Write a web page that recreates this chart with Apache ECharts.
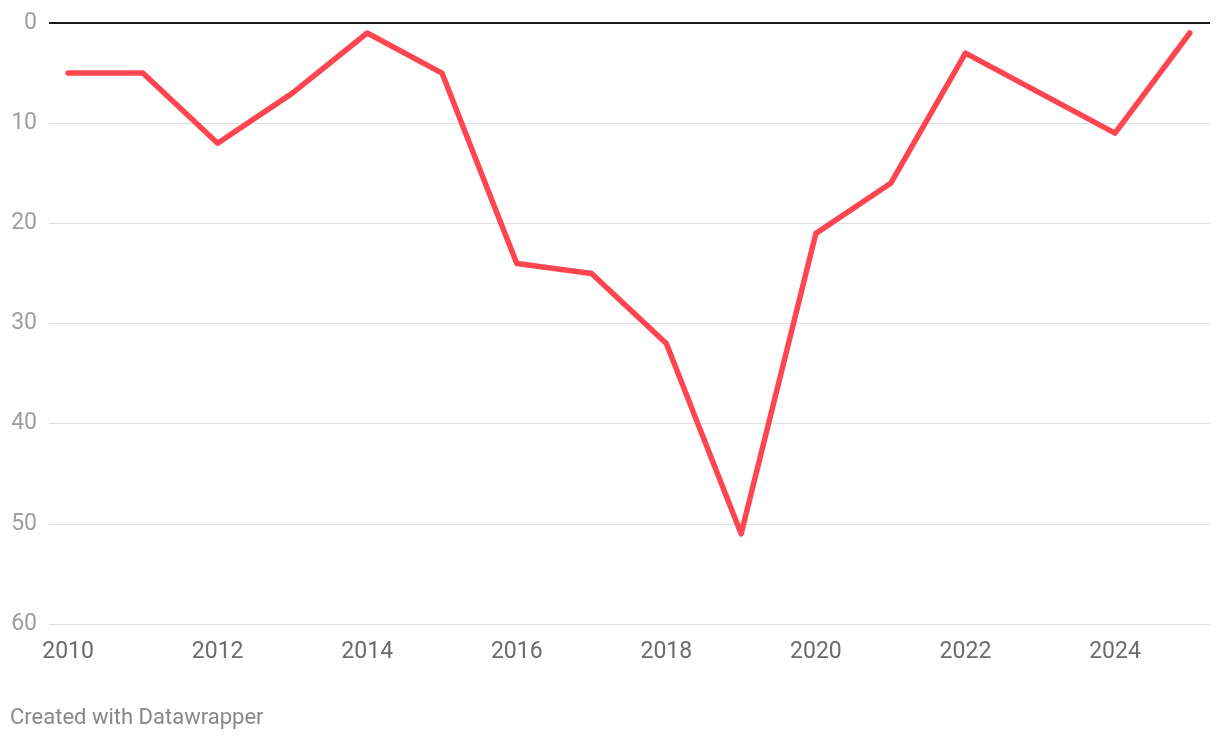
<!DOCTYPE html>
<html>
<head>
<meta charset="utf-8">
<script src="https://cdn.jsdelivr.net/npm/echarts@6/dist/echarts.min.js"></script>
<style>
html,body{margin:0;padding:0;background:#fff;}
#chart{width:1220px;height:740px;}
</style>
</head>
<body>
<div id="chart"></div>
<script>
const years = [2010,2011,2012,2013,2014,2015,2016,2017,2018,2019,2020,2021,2022,2023,2024,2025];
const values = [5,5,12,7,1,5,24,25,32,51,21,16,3,7,11,1];
const xTickLabels = [2010,2012,2014,2016,2018,2020,2022,2024];
const yTicks = [0,10,20,30,40,50,60];

const chart = echarts.init(document.getElementById('chart'), null, {renderer:'canvas'});
chart.setOption({
  animation:false,
  backgroundColor:'#fff',
  textStyle:{fontFamily:'Roboto'},
  grid:{left:49,right:10,top:23,bottom:116,containLabel:false},
  graphic:[{
    type:'text', left:10, top:707,
    style:{text:'Created with Datawrapper', fill:'#888', font:'22px Roboto'}
  }],
  xAxis:{
    type:'value', min:2009.745, max:2025.27,
    axisLine:{show:false}, axisTick:{show:false}, splitLine:{show:false},
    axisLabel:{
      customValues:xTickLabels, color:'#6b6b6b', fontSize:23, margin:17,
      fontFamily:'Roboto', formatter:v=>String(v)
    }
  },
  yAxis:{
    type:'value', inverse:true, min:0, max:60, interval:10,
    axisLine:{show:false}, axisTick:{show:false},
    splitLine:{lineStyle:{color:'#e0e0e0', width:1}},
    axisLabel:{color:'#9e9e9e', fontSize:23, margin:12, fontFamily:'Roboto', padding:[3,0,0,0]}
  },
  series:[{
    type:'line',
    data:years.map((y,i)=>[y,values[i]]),
    showSymbol:false, symbol:'none',
    lineStyle:{color:'#ff4550', width:5.5, cap:'round', join:'round'},
    markLine:{
      silent:true, symbol:['none','none'], animation:false,
      label:{show:false},
      lineStyle:{color:'#1a1a1a', width:2, type:'solid'},
      data:[{yAxis:0}]
    },
    z:3
  }]
});
</script>
</body>
</html>
